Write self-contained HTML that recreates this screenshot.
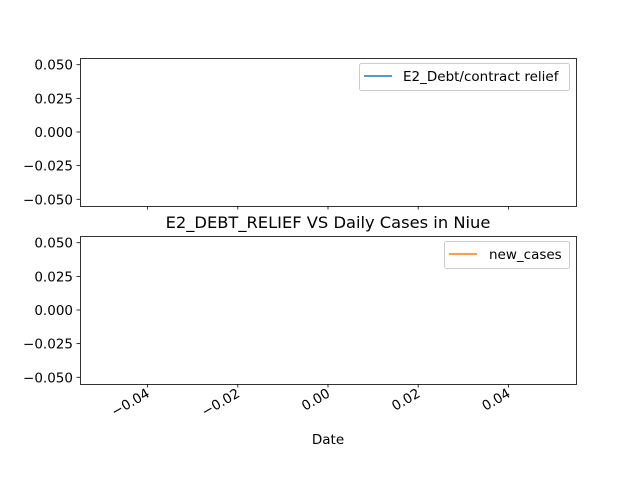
<!DOCTYPE html>
<html><head><meta charset="utf-8"><style>
html,body{margin:0;padding:0;background:#fff;}
svg{display:block;font-family:"DejaVu Sans","Liberation Sans",sans-serif;}
</style></head><body>
<svg id="chart" width="640" height="480" viewBox="0 0 640 480">
<rect x="0" y="0" width="640" height="480" fill="#fff"/>
<g id="top-axes"></g>
<g id="bottom-axes"></g>
<text x="328" y="228" font-size="16.3" text-anchor="middle" fill="#000">E2_DEBT_RELIEF VS Daily Cases in Niue</text>
<text x="328" y="444" font-size="13.5" text-anchor="middle" fill="#000">Date</text>
<g>
<rect x="359.5" y="63.5" width="210" height="27" rx="2" fill="#fff" stroke="#ccc"/>
<line x1="364" y1="76" x2="392" y2="76" stroke="#1f77b4" stroke-width="1.5"/>
<text x="403" y="81" font-size="13.5" fill="#000">E2_Debt/contract relief</text>
</g>
<g>
<rect x="444.5" y="241.5" width="125" height="27" rx="2" fill="#fff" stroke="#ccc"/>
<line x1="449" y1="254" x2="477" y2="254" stroke="#ff7f0e" stroke-width="1.5"/>
<text x="489" y="259" font-size="13.5" fill="#000">new_cases</text>
</g>
</svg>
<script>
const xTicks = [-0.04, -0.02, 0.00, 0.02, 0.04];
const xTickLabels = ["\u22120.04", "\u22120.02", "0.00", "0.02", "0.04"];
const yTicks = [0.050, 0.025, 0.000, -0.025, -0.050];
const yTickLabels = ["0.050", "0.025", "0.000", "\u22120.025", "\u22120.050"];
const debtValues = [];
const caseValues = [];
const NS = "http://www.w3.org/2000/svg";
const L = 80, R = 576, xMin = -0.055, xMax = 0.055, yMin = -0.055, yMax = 0.055;
function xs(v){ return L + (v - xMin) / (xMax - xMin) * (R - L); }
function mk(tag, attrs, parent){ const e = document.createElementNS(NS, tag); for (const k in attrs) e.setAttribute(k, attrs[k]); parent.appendChild(e); return e; }
function drawAxes(g, top, bottom, showX, name){
  const ys = v => top + (yMax - v) / (yMax - yMin) * (bottom - top);
  yTicks.forEach((t, i) => {
    const y = ys(t);
    const tk = mk("line", {x1: L - 3.5, x2: L, y1: y, y2: y, stroke: "#000", "stroke-width": 0.8}, g);
    
    
    const tx = mk("text", {x: L - 7, y: y + 5, "font-size": 13.5, "text-anchor": "end", fill: "#000"}, g);
    tx.textContent = yTickLabels[i];
    
    
  });
  xTicks.forEach((t, i) => {
    const x = xs(t);
    const tk = mk("line", {x1: x, x2: x, y1: bottom, y2: bottom + 3.5, stroke: "#000", "stroke-width": 0.8}, g);
    
    
    if (showX) {
      const ax = x + 3, ay = bottom + 12;
      const tx = mk("text", {x: ax, y: ay, "font-size": 13.5, "text-anchor": "end", fill: "#000", transform: "rotate(-30 " + ax + " " + ay + ")"}, g);
      tx.textContent = xTickLabels[i];
      
      
    }
  });
  const fr = mk("rect", {x: L + 0.5, y: top + 0.5, width: R - L, height: bottom - top, fill: "none", stroke: "#000", "stroke-width": 0.8}, g);
  
  
  return ys;
}
const ysTop = drawAxes(document.getElementById("top-axes"), 58, 206, false, "top-axes");
const ysBot = drawAxes(document.getElementById("bottom-axes"), 236, 384, true, "bottom-axes");
function drawLine(vals, ys, color, parent, name){
  if (!vals.length) return;
  const d = vals.map((p, i) => (i ? "L" : "M") + xs(p[0]) + " " + ys(p[1])).join(" ");
  const p = mk("path", {d: d, fill: "none", stroke: color, "stroke-width": 1.5}, parent);
  
  
}
drawLine(debtValues, ysTop, "#1f77b4", document.getElementById("top-axes"), "debt-relief-line");
drawLine(caseValues, ysBot, "#ff7f0e", document.getElementById("bottom-axes"), "new-cases-line");
</script>
</body></html>
